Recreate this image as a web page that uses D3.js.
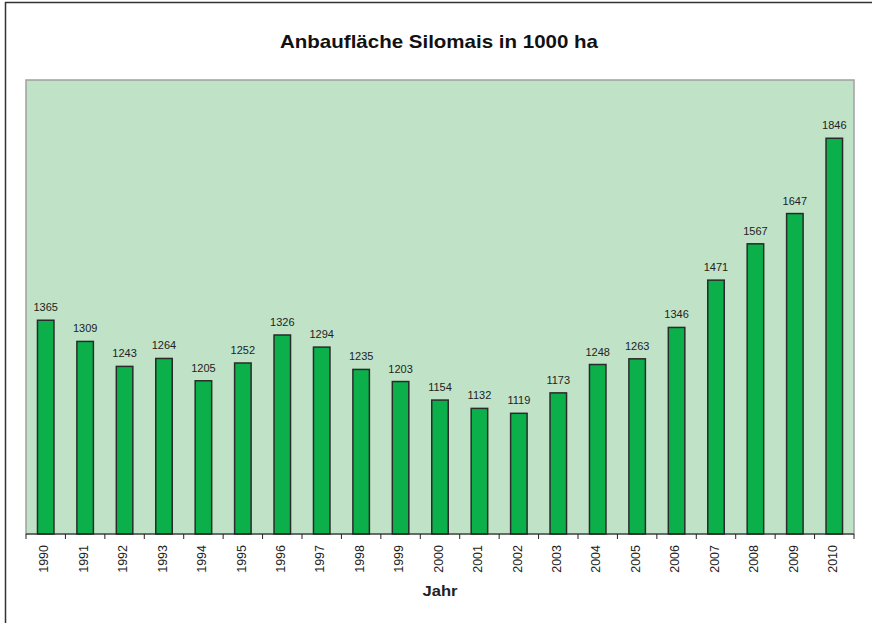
<!DOCTYPE html>
<html><head><meta charset="utf-8">
<script src="https://d3js.org/d3.v7.min.js"></script>
<style>body{margin:0;background:#fff;overflow:hidden;} svg{display:block;font-family:"Liberation Sans",Arial,sans-serif;}</style>
</head><body>
<svg id="c" width="872" height="623"></svg>
<script>
const years = ["1990","1991","1992","1993","1994","1995","1996","1997","1998","1999","2000","2001","2002","2003","2004","2005","2006","2007","2008","2009","2010"];
const values = [1365,1309,1243,1264,1205,1252,1326,1294,1235,1203,1154,1132,1119,1173,1248,1263,1346,1471,1567,1647,1846];
const title = "Anbaufläche Silomais in 1000 ha";
const xTitle = "Jahr";

const svg = d3.select("#c");
// outer frame (only top and left edges fall inside the picture)
svg.append("path").attr("d","M5.5,623 V2.5 H872")
  .attr("fill","none").attr("stroke","#333").attr("stroke-width",1.5);

const L=26, R=854, T=80, B=534;
const xb = d3.scaleBand().domain(years).range([L,R]);
const y = d3.scaleLinear().domain([800,2000]).range([B,T]);

svg.append("rect").attr("x",L).attr("y",T).attr("width",R-L).attr("height",B-T)
  .attr("fill","#c0e3c8").attr("stroke","#a0a0a0").attr("stroke-width",1.5);

svg.selectAll("rect.bar").data(values).enter().append("rect").attr("class","bar")
  .attr("x",(d,i)=>xb(years[i])+xb.bandwidth()/2-8.25)
  .attr("width",16.5)
  .attr("y",d=>y(d))
  .attr("height",d=>B-y(d))
  .attr("fill","#0bb04b").attr("stroke","#2a2a2a").attr("stroke-width",1.5);

svg.selectAll("text.val").data(values).enter().append("text").attr("class","val")
  .attr("x",(d,i)=>xb(years[i])+xb.bandwidth()/2)
  .attr("y",d=>y(d)-9)
  .attr("text-anchor","middle").attr("font-size",11).attr("fill","#222")
  .text(d=>d);

// axis line
svg.append("line").attr("x1",L).attr("x2",R).attr("y1",B).attr("y2",B).attr("stroke","#222").attr("stroke-width",1.2);
// ticks at band boundaries
const edges = years.map(d=>xb(d)).concat([R]);
svg.selectAll("line.tick").data(edges).enter().append("line").attr("class","tick")
  .attr("x1",d=>d).attr("x2",d=>d).attr("y1",B).attr("y2",B+5).attr("stroke","#222").attr("stroke-width",1);

svg.selectAll("text.yr").data(years).enter().append("text").attr("class","yr")
  .attr("transform",d=>`translate(${xb(d)+xb.bandwidth()/2+2.7},545) rotate(-90)`)
  .attr("text-anchor","end").attr("font-size",12.5).attr("fill","#222")
  .text(d=>d);

svg.append("text").attr("x",439).attr("y",48).attr("text-anchor","middle")
  .attr("font-size",18.5).attr("font-weight","bold").attr("fill","#111")
  .attr("textLength",318).attr("lengthAdjust","spacingAndGlyphs").text(title);
svg.append("text").attr("x",440).attr("y",596).attr("text-anchor","middle")
  .attr("font-size",14).attr("font-weight","bold").attr("fill","#222")
  .attr("textLength",35).attr("lengthAdjust","spacingAndGlyphs").text(xTitle);
</script>
</body></html>
